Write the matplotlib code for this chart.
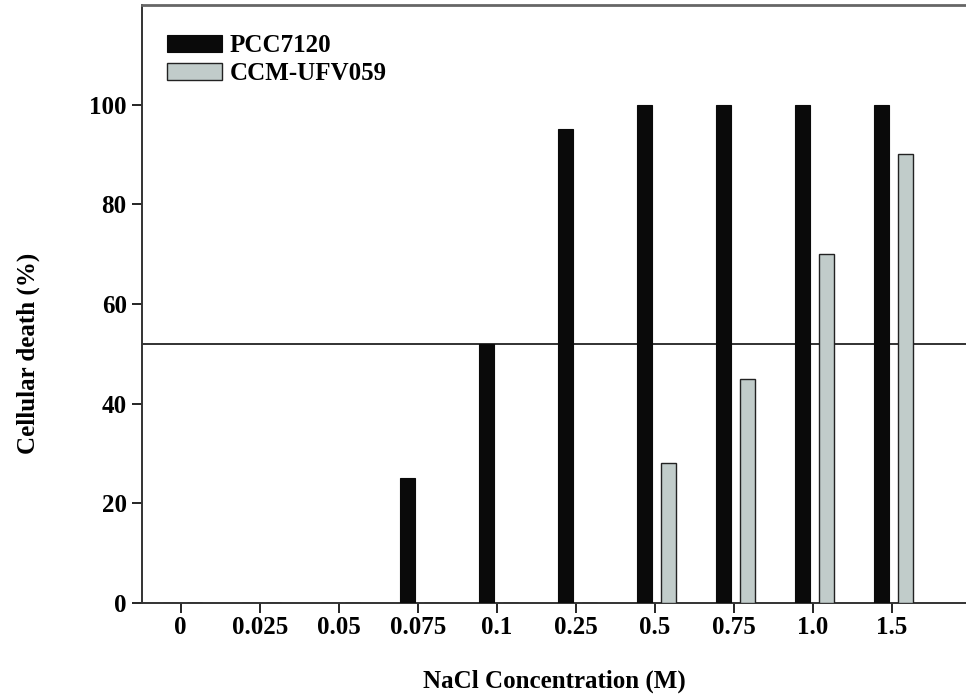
import numpy as np
import matplotlib.pyplot as plt

concentrations = ['0', '0.025', '0.05', '0.075', '0.1', '0.25', '0.5', '0.75', '1.0', '1.5']
pcc7120 = [0, 0, 0, 25, 52, 95, 100, 100, 100, 100]
ccm_ufv059 = [0, 0, 0, 0, 0, 0, 28, 45, 70, 90]
threshold = 52

plt.rcParams['font.family'] = ['Liberation Serif', 'DejaVu Serif']
plt.rcParams['font.weight'] = 'bold'

fig = plt.figure(figsize=(9.66, 6.94), dpi=100)
ax = fig.add_axes([0.147, 0.131, 0.853, 0.862])

x = np.arange(len(concentrations))
width = 0.19
ax.bar(x - 0.135, pcc7120, width, color='#0a0a0a', edgecolor='#0a0a0a',
       linewidth=0.8, label='PCC7120', zorder=3)
ax.bar(x + 0.175, ccm_ufv059, width, color='#c1ccca', edgecolor='#222222',
       linewidth=1.0, label='CCM-UFV059', zorder=3)
ax.axhline(threshold, color='#222222', linewidth=1.3, zorder=2)

ax.set_xlim(-0.49, 9.94)
ax.set_ylim(0, 120)
ax.set_xticks(x)
ax.set_xticklabels(concentrations)
ax.set_yticks(range(0, 101, 20))
ax.tick_params(axis='both', direction='out', length=7, width=1.2,
               labelsize=18)
ax.tick_params(axis='x', pad=2)
ax.tick_params(axis='y', pad=4)

for side in ['left', 'bottom']:
    ax.spines[side].set_linewidth(1.4)
    ax.spines[side].set_color('#333333')
ax.spines['top'].set_linewidth(2)
ax.spines['top'].set_color('#666666')
ax.spines['right'].set_visible(False)

ax.set_xlabel('NaCl Concentration (M)', fontsize=18, fontweight='bold', labelpad=22)
ax.set_ylabel('Cellular death (%)', fontsize=18, fontweight='bold')
ax.yaxis.set_label_coords(-0.124, 0.418)

leg = ax.legend(loc='upper left', bbox_to_anchor=(0.018, 0.968), frameon=False,
                fontsize=18, handlelength=2.2, handleheight=0.7,
                handletextpad=0.3, labelspacing=0.2, borderaxespad=0.2,
                borderpad=0.2)

fig.savefig('out.png', dpi=100)
